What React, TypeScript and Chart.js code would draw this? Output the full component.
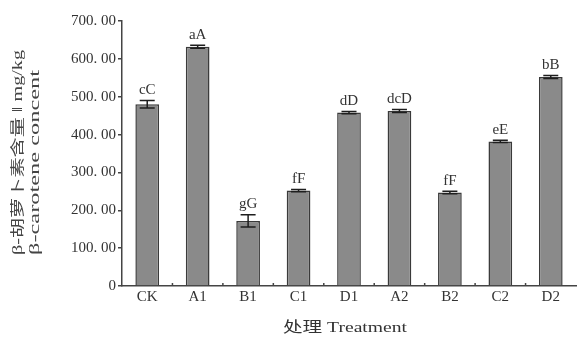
import React, { useEffect, useRef } from "react";
import { Chart, registerables } from "chart.js";
Chart.register(...registerables);

const categories = ["CK", "A1", "B1", "C1", "D1", "A2", "B2", "C2", "D2"];
const values = [480, 632, 172, 252, 458, 462, 247, 382, 552];
const errors = [10, 4, 16, 3, 3, 4, 3, 3, 4];
const sigLabels = ["cC", "aA", "gG", "fF", "dD", "dcD", "fF", "eE", "bB"];
const yTickLabels = ["0", "100. 00", "200. 00", "300. 00", "400. 00", "500. 00", "600. 00", "700. 00"];
const yTitleLines = ["β-胡萝卜素含量 ‖ mg/kg", "β-carotene concent"];
const xTitle = "处理 Treatment";

const FONT = "'Liberation Serif', 'Noto Sans CJK SC', serif";
const INK = "#333";

function drawStretched(ctx: CanvasRenderingContext2D, text: string, cx: number, cy: number, targetW: number, rotate: boolean) {
  ctx.save();
  ctx.translate(cx, cy);
  if (rotate) ctx.rotate(-Math.PI / 2);
  const w = ctx.measureText(text).width;
  ctx.scale(targetW / w, 1);
  ctx.textAlign = "center";
  ctx.textBaseline = "middle";
  ctx.fillText(text, 0, 0);
  ctx.restore();
}

const decorPlugin = {
  id: "decor",
  afterDatasetsDraw(chart: any) {
    const ctx: CanvasRenderingContext2D = chart.ctx;
    const meta = chart.getDatasetMeta(0);
    const ys = chart.scales.y;
    ctx.save();
    ctx.strokeStyle = "#1e1e1e";
    ctx.fillStyle = INK;
    ctx.lineWidth = 1.5;
    ctx.font = `15px ${FONT}`;
    ctx.textAlign = "center";
    ctx.textBaseline = "bottom";
    meta.data.forEach((bar: any, i: number) => {
      const x = bar.x;
      const yTop = ys.getPixelForValue(values[i] + errors[i]);
      const yBot = ys.getPixelForValue(values[i] - errors[i]);
      const cap = 7.5;
      ctx.beginPath();
      ctx.moveTo(x, yTop);
      ctx.lineTo(x, yBot);
      ctx.moveTo(x - cap, yTop);
      ctx.lineTo(x + cap, yTop);
      ctx.moveTo(x - cap, yBot);
      ctx.lineTo(x + cap, yBot);
      ctx.stroke();
      ctx.fillText(sigLabels[i], x, yTop - 3);
    });
    ctx.restore();
  },
  afterDraw(chart: any) {
    const ctx: CanvasRenderingContext2D = chart.ctx;
    const meta = chart.getDatasetMeta(0);
    const area = chart.chartArea;
    ctx.save();
    ctx.strokeStyle = "#444";
    ctx.lineWidth = 1.5;
    for (let i = 1; i < meta.data.length; i++) {
      const bx = (meta.data[i - 1].x + meta.data[i].x) / 2;
      ctx.beginPath();
      ctx.moveTo(bx, area.bottom);
      ctx.lineTo(bx, area.bottom - 3);
      ctx.stroke();
    }
    ctx.fillStyle = "#444";
    ctx.font = `14px ${FONT}`;
    drawStretched(ctx, yTitleLines[0], 18, 152.5, 205, true);
    drawStretched(ctx, yTitleLines[1], 35, 162.5, 185, true);
    ctx.fillStyle = INK;
    ctx.font = `15px ${FONT}`;
    drawStretched(ctx, xTitle, 345, 328, 124, false);
    ctx.restore();
  },
};

export default function App() {
  const ref = useRef<HTMLCanvasElement | null>(null);
  useEffect(() => {
    document.body.style.margin = "0";
    const canvas = ref.current;
    if (!canvas) return;
    const chart = new Chart(canvas, {
      type: "bar",
      data: {
        labels: categories,
        datasets: [
          {
            data: values,
            backgroundColor: "#8a8a8a",
            borderColor: "#3a3a3a",
            borderWidth: 1.5,
            categoryPercentage: 1,
            barPercentage: 0.47,
          },
        ],
      },
      options: {
        animation: false,
        responsive: false,
        devicePixelRatio: 1,
        layout: { padding: { top: 21, right: 3, left: 0, bottom: 0 } },
        plugins: { legend: { display: false }, tooltip: { enabled: false }, title: { display: false } },
        scales: {
          x: {
            offset: true,
            grid: { display: false, drawTicks: false, offset: true },
            border: { display: true, color: "#444", width: 1.5 },
            ticks: { color: INK, font: { family: FONT, size: 15 }, padding: 2, maxRotation: 0 },
            afterFit: (s: any) => {
              s.height = 60;
            },
          },
          y: {
            min: 0,
            max: 700,
            grid: { drawOnChartArea: false, drawTicks: true, tickLength: 4, color: "#444", lineWidth: 1.5 },
            border: { display: true, color: "#444", width: 1.5 },
            ticks: {
              stepSize: 100,
              color: INK,
              padding: 2,
              font: { family: FONT, size: 15 },
              callback: (v: any) => yTickLabels[Math.round(Number(v) / 100)],
            },
            afterFit: (s: any) => {
              s.width = 122;
            },
          },
        },
      },
      plugins: [decorPlugin],
    });
    return () => chart.destroy();
  }, []);
  return (
    <div style={{ width: 579, height: 346, background: "#fff" }}>
      <canvas ref={ref} width={579} height={346} />
    </div>
  );
}
